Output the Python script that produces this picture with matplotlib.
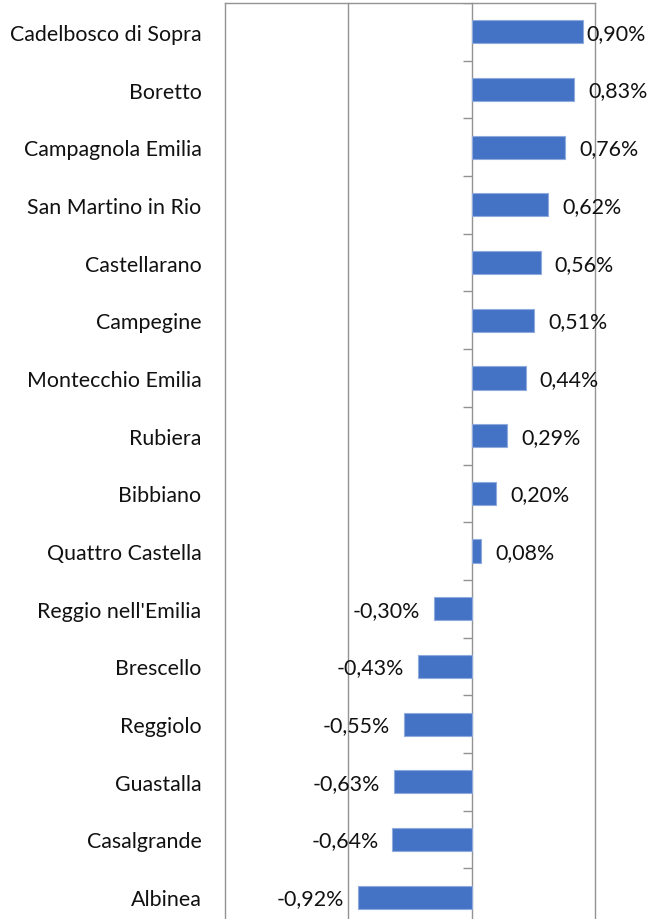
import matplotlib
matplotlib.use("Agg")
import matplotlib.pyplot as plt
import numpy as np

plt.rcParams["font.family"] = ["Lato", "DejaVu Sans"]

comuni = [
    "Cadelbosco di Sopra", "Boretto", "Campagnola Emilia", "San Martino in Rio",
    "Castellarano", "Campegine", "Montecchio Emilia", "Rubiera", "Bibbiano",
    "Quattro Castella", "Reggio nell'Emilia", "Brescello", "Reggiolo",
    "Guastalla", "Casalgrande", "Albinea",
]
variazione = [0.90, 0.83, 0.76, 0.62, 0.56, 0.51, 0.44, 0.29, 0.20, 0.08,
              -0.30, -0.43, -0.55, -0.63, -0.64, -0.92]
x_ticks = [-2, -1, 0, 1]

BAR = "#4472c4"
GRID = "#939393"
TEXT = "#111111"
PX = 72 / 100  # points per pixel

fig = plt.figure(figsize=(6.47, 9.2), dpi=100)
ax = fig.add_axes([224.5 / 647, -7 / 920, 370.5 / 647, 923 / 920])

y = np.arange(len(comuni))
ax.barh(y, variazione, height=0.4, color=BAR, edgecolor="#8faadc", linewidth=0.8, zorder=3)

ax.set_xlim(-2, 1)
ax.set_ylim(len(comuni) - 0.5, -0.5)
ax.set_xticks(x_ticks)
ax.set_xticklabels([])
ax.tick_params(axis="x", length=0)
ax.grid(axis="x", color=GRID, linewidth=1.0, zorder=0)
for gl in ax.get_xgridlines():
    gl.set_clip_on(False)

ax.set_yticks(y)
ax.set_yticklabels(comuni, fontsize=15.4, color=TEXT)
ax.tick_params(axis="y", length=0, pad=23 * PX)

for side in ["left", "right", "bottom"]:
    ax.spines[side].set_visible(False)
ax.spines["top"].set_color(GRID)
ax.spines["top"].set_linewidth(1.0)

# small category separators on the zero line
ax.hlines(np.arange(len(comuni) + 1) - 0.5, -0.065, 0, color=GRID, linewidth=1.0, zorder=2)

for i, v in enumerate(variazione):
    label = f"{v:.2f}%".replace(".", ",")
    if v >= 0:
        off = (4 if i == 0 else 14) * PX
        ax.annotate(label, (v, i), xytext=(off, -1 * PX), textcoords="offset points",
                    ha="left", va="center", fontsize=15.4, color=TEXT,
                    annotation_clip=False, zorder=4)
    else:
        ax.annotate(label, (v, i), xytext=(-14 * PX, -1 * PX), textcoords="offset points",
                    ha="right", va="center", fontsize=15.4, color=TEXT,
                    annotation_clip=False, zorder=4)

fig.savefig("out.png", dpi=100)
